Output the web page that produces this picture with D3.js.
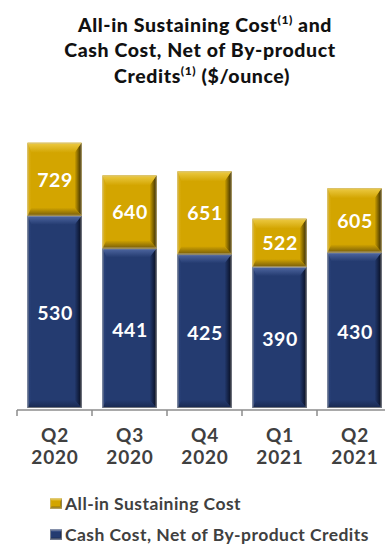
<!DOCTYPE html>
<html>
<head>
<meta charset="utf-8">
<script src="https://cdn.jsdelivr.net/npm/d3@7"></script>
<style>
  html, body { margin: 0; padding: 0; background: #fff; }
  svg { display: block; font-family: "Lato", "DejaVu Sans", sans-serif; }
</style>
</head>
<body>
<svg id="chart" width="385" height="544"></svg>
<script>
// Quarterly cost figures ($/ounce)
const quarters = ["Q2 2020", "Q3 2020", "Q4 2020", "Q1 2021", "Q2 2021"];
const aisc = [729, 640, 651, 522, 605];          // All-in Sustaining Cost
const cashCost = [530, 441, 425, 390, 430];      // Cash Cost, Net of By-product Credits
const seriesNames = ["All-in Sustaining Cost", "Cash Cost, Net of By-product Credits"];

const svg = d3.select("#chart");
const baseY = 410;

const x = d3.scaleBand()
  .domain(quarters)
  .range([17, 392])
  .paddingInner(0.28)
  .paddingOuter(0.14);

const y = d3.scaleLinear()
  .domain([0, 800])
  .range([baseY, baseY - 800 * 0.3666]);

// Colour palettes for bevelled bars
const palettes = {
  gold: { base: "#D3A500", top: "#EDCB45", left: "#DDB21A", right: "#342800", bottom: "#765C0A" },
  blue: { base: "#243B70", top: "#5068A2", left: "#2C457F", right: "#050B1E", bottom: "#18284F" }
};

const defs = svg.append("defs");
function grad(id, x1, y1, x2, y2, stops) {
  const g = defs.append("linearGradient").attr("id", id)
    .attr("x1", x1).attr("y1", y1).attr("x2", x2).attr("y2", y2);
  stops.forEach(s => g.append("stop").attr("offset", s[0]).attr("stop-color", s[1]));
}
Object.entries(palettes).forEach(([k, p]) => {
  grad(k + "-top", 0, 0, 0, 1, [[0, p.top], [1, p.base]]);
  grad(k + "-bottom", 0, 0, 0, 1, [[0, p.base], [1, p.bottom]]);
  grad(k + "-right", 0, 0, 1, 0, [[0, p.base], [1, p.right]]);
  grad(k + "-left", 0, 0, 1, 0, [[0, p.left], [1, p.base]]);
});

// Draws a bevelled rectangle with trapezoid edges
function bevelBar(g, x0, y0, w, h, pal, bv) {
  const x1 = x0 + w, y1 = y0 + h;
  const bt = Math.min(bv.t, h / 2), bb = Math.min(bv.b, h / 2);
  g.append("rect").attr("x", x0).attr("y", y0).attr("width", w).attr("height", h)
    .attr("fill", palettes[pal].base);
  const poly = (pts, fill) => g.append("polygon")
    .attr("points", pts.map(p => p.join(",")).join(" ")).attr("fill", fill);
  poly([[x0, y0], [x0 + bv.l, y0 + bt], [x0 + bv.l, y1 - bb], [x0, y1]], `url(#${pal}-left)`);
  poly([[x1, y0], [x1 - bv.r, y0 + bt], [x1 - bv.r, y1 - bb], [x1, y1]], `url(#${pal}-right)`);
  poly([[x0, y0], [x1, y0], [x1 - bv.r, y0 + bt], [x0 + bv.l, y0 + bt]], `url(#${pal}-top)`);
  poly([[x0, y1], [x1, y1], [x1 - bv.r, y1 - bb], [x0 + bv.l, y1 - bb]], `url(#${pal}-bottom)`);
  g.append("rect").attr("x", x0 + 0.5).attr("y", y0 + 0.5).attr("width", w - 1).attr("height", h - 1)
    .attr("fill", "none").attr("stroke", "#c8c0a8").attr("stroke-opacity", 0.5).attr("stroke-width", 1);
}

const bars = svg.append("g");
quarters.forEach((q, i) => {
  const g = bars.append("g");
  const x0 = x(q), w = x.bandwidth();
  // Cash cost segment (from zero)
  bevelBar(g, x0, y(cashCost[i]), w, y(0) - y(cashCost[i]) - 2, "blue", { t: 9, b: 8, l: 4, r: 7 });
  // All-in sustaining cost portion above it
  bevelBar(g, x0, y(aisc[i]), w, y(cashCost[i]) - y(aisc[i]), "gold", { t: 10, b: 8, l: 4, r: 7 });
});

// Value labels
const valueText = (cx, cy, v) => svg.append("text").attr("x", cx).attr("y", cy)
  .attr("text-anchor", "middle").attr("dominant-baseline", "central")
  .attr("fill", "#fff").attr("font-size", 19.5).attr("font-weight", 700)
  .attr("letter-spacing", 0.6).text(v);
quarters.forEach((q, i) => {
  const cx = x(q) + x.bandwidth() / 2 + 0.5;
  valueText(cx, (y(aisc[i]) + y(cashCost[i])) / 2, aisc[i]);
  valueText(cx, (y(cashCost[i]) + y(0)) / 2, cashCost[i]);
});

// Category axis with ticks at band boundaries
const axis = svg.append("g");
axis.append("line").attr("x1", x.range()[0]).attr("x2", 385).attr("y1", baseY).attr("y2", baseY)
  .attr("stroke", "#8c8c8c").attr("stroke-width", 1.5);
quarters.forEach((q, i) => {
  const bx = x.range()[0] + i * x.step();
  axis.append("line").attr("x1", bx).attr("x2", bx).attr("y1", baseY).attr("y2", baseY + 6)
    .attr("stroke", "#8c8c8c").attr("stroke-width", 1.5);
  const parts = q.split(" ");
  const cx = x(q) + x.bandwidth() / 2 + 0.5;
  const t = axis.append("text").attr("y", 442)
    .attr("text-anchor", "middle").attr("fill", "#404040")
    .attr("font-size", 19).attr("font-weight", 700).attr("letter-spacing", 0.8);
  t.append("tspan").attr("x", cx).text(parts[0]);
  t.append("tspan").attr("x", cx).attr("dy", 21.5).text(parts[1]);
});

// Title
const title = svg.append("text").attr("text-anchor", "middle").attr("fill", "#111")
  .attr("font-size", 19.5).attr("font-weight", 900).attr("letter-spacing", 0.6);
const tl1 = title.append("tspan").attr("x", 205).attr("y", 32);
tl1.append("tspan").text("All-in Sustaining Cost");
tl1.append("tspan").attr("font-size", 12).attr("dy", -8).text("(1)");
tl1.append("tspan").attr("dy", 8).text(" and");
title.append("tspan").attr("x", 200).attr("y", 57).text("Cash Cost, Net of By-product");
const tl3 = title.append("tspan").attr("x", 202).attr("y", 83);
tl3.append("tspan").text("Credits");
tl3.append("tspan").attr("font-size", 12).attr("dy", -8).text("(1)");
tl3.append("tspan").attr("dy", 8).text(" ($/ounce)");

// Legend
const legend = svg.append("g");
["gold", "blue"].forEach((pal, i) => {
  const ly = 503.5 + i * 31;
  const lg = legend.append("g");
  bevelBar(lg, 50, ly - 5, 12, 10, pal, { t: 3, b: 3, l: 2, r: 2 });
  legend.append("text").attr("x", 65).attr("y", ly).attr("dominant-baseline", "central")
    .attr("fill", "#404040").attr("font-size", 17.5).attr("font-weight", 700)
    .attr("letter-spacing", 0.45).text(seriesNames[i]);
});
</script>
</body>
</html>
